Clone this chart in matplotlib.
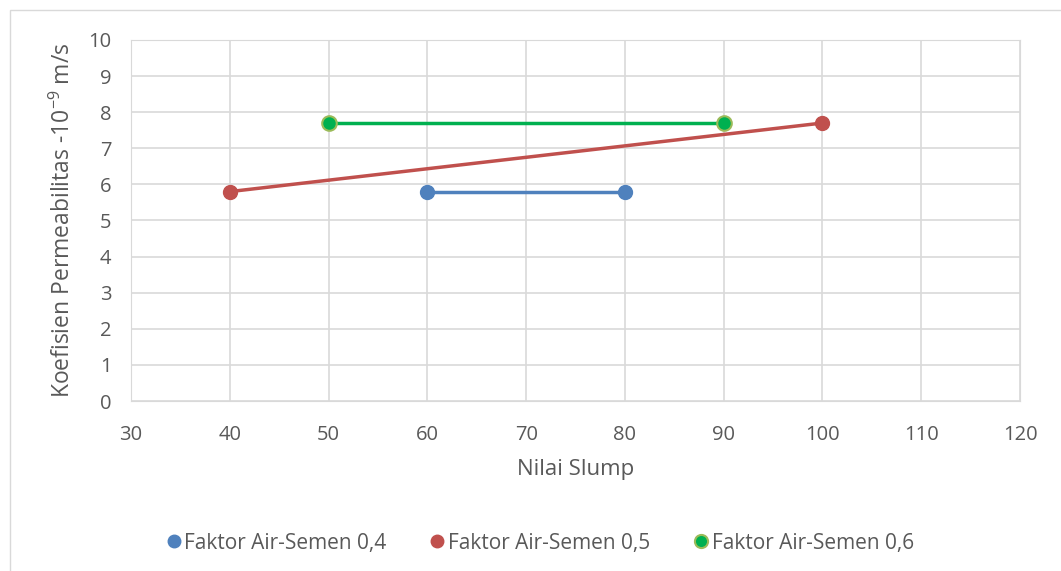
import matplotlib.pyplot as plt
from matplotlib.patches import Rectangle

plt.rcParams['font.family'] = ['Open Sans', 'DejaVu Sans']

# data
slump_04 = [60, 80]
perm_04 = [5.8, 5.8]
slump_05 = [40, 100]
perm_05 = [5.8, 7.7]
slump_06 = [50, 90]
perm_06 = [7.7, 7.7]
labels = ["Faktor Air-Semen 0,4", "Faktor Air-Semen 0,5", "Faktor Air-Semen 0,6"]

txt = "#595959"
fig = plt.figure(figsize=(10.61, 5.71), dpi=100)
ax = fig.add_axes([0.1235, 0.2977, 0.8379, 0.6323])

ax.plot(slump_04, perm_04, color="#4F81BD", lw=2.5, marker="o", ms=10,
        label=labels[0], zorder=3)
ax.plot(slump_05, perm_05, color="#C0504D", lw=2.5, marker="o", ms=10,
        label=labels[1], zorder=3)
ax.plot(slump_06, perm_06, color="#00B050", lw=2.5, marker="o", ms=10.5,
        mec="#9BBB59", mew=1.5, label=labels[2], zorder=3)

ax.set_xlim(30, 120)
ax.set_ylim(0, 10)
ax.set_xticks(range(30, 121, 10))
ax.set_yticks(range(0, 11))
ax.grid(True, color="#D9D9D9", lw=1.2)
ax.set_axisbelow(True)
for s in ax.spines.values():
    s.set_color("#D9D9D9")
ax.tick_params(length=0, colors=txt, labelsize=14.5)
ax.tick_params(axis="x", pad=17)
ax.tick_params(axis="y", pad=14)

ax.set_xlabel("Nilai Slump", fontsize=16, color=txt, labelpad=10)
ax.set_ylabel("Koefisien Permeabilitas -10$^{\\mathregular{-9}}$ m/s", fontsize=16.5,
              color=txt, labelpad=9)

ax.legend(loc="center", bbox_to_anchor=(0.51, 0.049), bbox_transform=fig.transFigure,
          ncol=3, frameon=False, fontsize=15, labelcolor=txt, handlelength=0.5,
          handletextpad=0.25, columnspacing=2.2, markerscale=0.9)
for line in ax.get_legend().get_lines():
    line.set_linestyle("none")

fig.patches.append(Rectangle((10 / 1061, -0.1), 1.2, (561 / 571) + 0.1,
                             transform=fig.transFigure, fill=False,
                             edgecolor="#D9D9D9", lw=1))

plt.savefig("out.png")
